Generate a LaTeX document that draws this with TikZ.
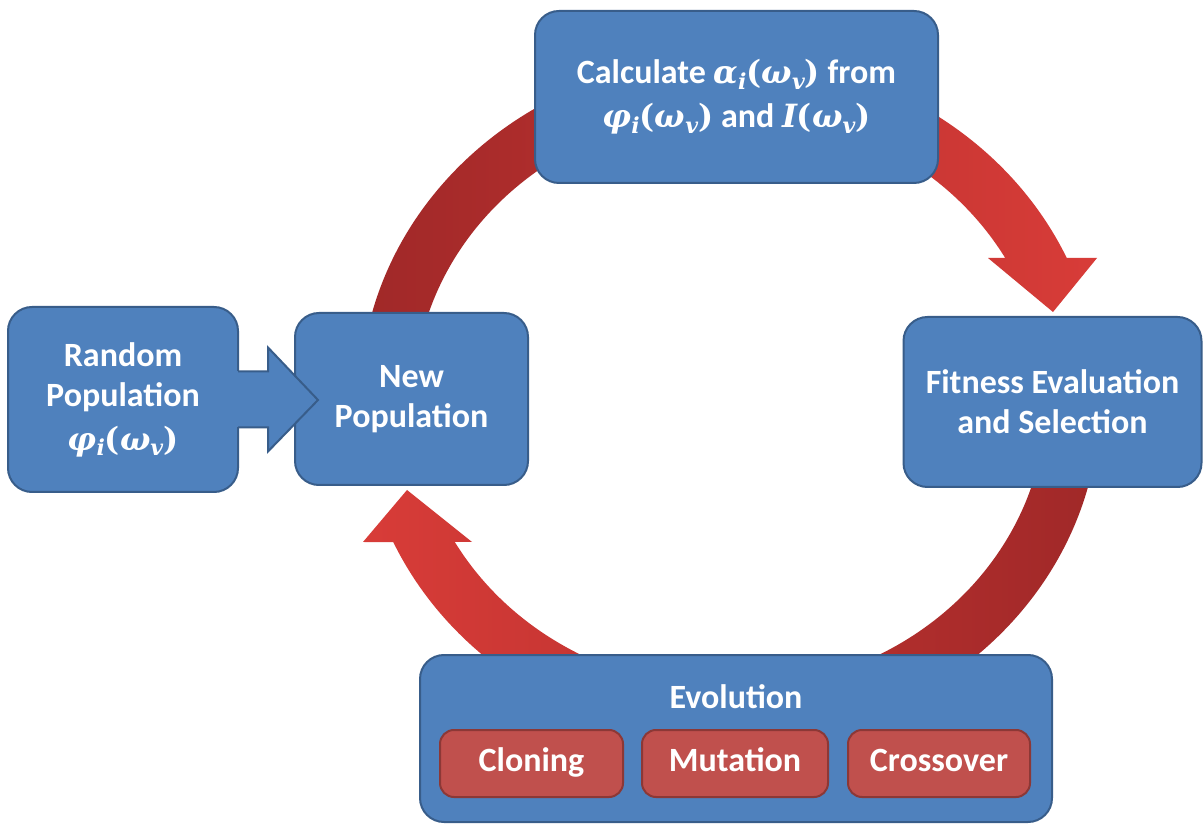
\documentclass[tikz,border=0pt]{standalone}
\usepackage{fontspec}
\setmainfont{Carlito}
\newfontfamily\mfont{DejaVu Serif}
\usetikzlibrary{calc}
\definecolor{boxblue}{HTML}{4F81BD}
\definecolor{boxbord}{HTML}{385D8A}
\definecolor{redfill}{HTML}{C0504D}
\definecolor{redbord}{HTML}{8C3836}
\definecolor{rdark}{HTML}{A02828}
\definecolor{rbright}{HTML}{D83C38}
\newcommand{\mvar}[1]{{\fontsize{16}{16}\selectfont\mfont\bfseries\itshape #1}}
\newcommand{\msub}[1]{\raisebox{-0.35ex}{\fontsize{11}{11}\selectfont\mfont\bfseries\itshape #1}}
\newcommand{\mpar}[1]{{\fontsize{16}{16}\selectfont\mfont #1}}
\newcommand{\omv}{\mpar{(}\mvar{ω}\msub{v}\mpar{)}}
\tikzset{
  txtfont/.style={font=\fontsize{17}{20}\selectfont\bfseries},
  blk/.style={draw=boxbord, fill=boxblue, line width=1pt, rounded corners=12pt,
    text=white, align=center, inner sep=0pt, txtfont},
  redblk/.style={draw=redbord, fill=redfill, line width=1pt, rounded corners=7pt,
    text=white, align=center, inner sep=0pt, txtfont, text height=11.5pt, text depth=3.5pt},
  blockarrow/.style={draw=boxbord, fill=boxblue, line width=1pt, line join=miter},
  lbl/.style={text=white, align=center, inner sep=0pt, txtfont}
}
\begin{document}
\begin{tikzpicture}[x=0.5pt,y=0.5pt]
\useasboundingbox[fill=white] (0,0) rectangle (1204,825);
\coordinate (ctr) at (730,425);
% upper circular arrow (New Population -> Fitness)
\shade[left color=rdark, right color=rbright]
  ($(ctr)+(180:185pt and 171.5pt)$)
  arc[start angle=180, end angle=24.46, x radius=185pt, y radius=171.5pt]
  -- (1097,567) -- (1053,513) -- (988,567)
  -- ($(ctr)+(29.43:158pt and 144.5pt)$)
  arc[start angle=29.43, end angle=180, x radius=158pt, y radius=144.5pt]
  -- cycle;
% lower circular arrow (Fitness -> New Population)
\shade[left color=rbright, right color=rdark]
  ($(ctr)+(0:185pt and 171.5pt)$)
  arc[start angle=0, end angle=-155.54, x radius=185pt, y radius=171.5pt]
  -- (363,283) -- (407,335) -- (472,283)
  -- ($(ctr)+(-150.57:158pt and 144.5pt)$)
  arc[start angle=-150.57, end angle=0, x radius=158pt, y radius=144.5pt]
  -- cycle;
% boxes
\node[blk, minimum width=201.5pt, minimum height=86pt] (calc) at (736.5,728)
  {Calculate \mvar{α}\msub{i}\omv{} from\\[2pt] \mvar{φ}\msub{i}\omv{} and \mvar{I}\omv};
\node[blk, minimum width=115pt, minimum height=92.5pt] (rand) at (123,425.5)
  {Random\\ Population\\[2pt] \mvar{φ}\msub{i}\omv};
\node[blk, minimum width=116.5pt, minimum height=86pt] (newp) at (411.5,426)
  {New\\ Population};
\node[blk, minimum width=149pt, minimum height=85pt] (fit) at (1052.5,423)
  {Fitness Evaluation\\ and Selection};
\node[blk, minimum width=316pt, minimum height=83.5pt] (evo) at (736,86.5) {};
\node[lbl] (evotxt) at (736,128) {Evolution};
\node[redblk, minimum width=91.5pt, minimum height=33.5pt] (clon) at (531.5,61.5) {Cloning};
\node[redblk, minimum width=93pt, minimum height=33.5pt] (mut) at (735,61.5) {Mutation};
\node[redblk, minimum width=91pt, minimum height=33.5pt] (cross) at (939,61.5) {Crossover};
% block arrow Random -> New
\coordinate (tip) at (318,425);
\fill[boxblue] ($(rand.east)+(-2,28)$) -- ($(rand.east)+(29,28)$) -- ($(rand.east)+(29,-28)$) -- ($(rand.east)+(-2,-28)$) -- cycle;
\draw[blockarrow] ($(rand.east)+(-1,28)$) -- ($(rand.east)+(29,28)$) -- ($(rand.east)+(29,52)$)
  -- (tip) -- ($(rand.east)+(29,-52)$) -- ($(rand.east)+(29,-28)$) -- ($(rand.east)+(-1,-28)$);
\end{tikzpicture}
\end{document}
